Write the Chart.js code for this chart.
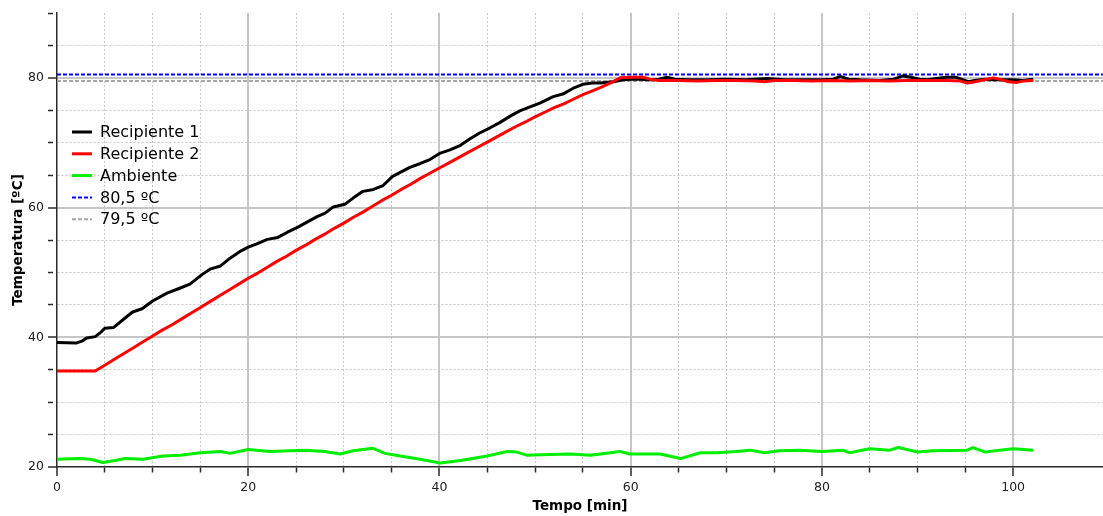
<!DOCTYPE html>
<html lang="pt">
<head>
<meta charset="utf-8">
<title>Temperatura dos recipientes</title>
<script src="https://cdn.jsdelivr.net/npm/chart.js@4/dist/chart.umd.min.js"></script>
<style>
  html, body { margin: 0; padding: 0; background: #ffffff; }
  #grafico { display: block; }
</style>
</head>
<body>
<canvas id="grafico" width="1103" height="516"></canvas>
<script>
// Recipiente 1: tempo [min] e temperatura [ºC]
const tempoR1 = [0, 2.0, 2.6, 3.1, 4.0, 4.6, 5.0, 5.9, 6.9, 7.9, 8.9, 10.0, 11.5, 12.9, 13.9, 15.2, 16.0, 17.1, 18.1, 19.1,
  20.0, 20.9, 22.0, 23.1, 24.1, 25.1, 26.2, 27.2, 28.0, 28.9, 30.1, 31.0, 32.0, 33.1, 34.1, 35.1, 36.0, 36.9, 38.0, 39.0,
  40.1, 41.1, 42.2, 43.2, 44.2, 45.3, 46.3, 47.4, 48.4, 49.4, 50.5, 51.9, 52.9, 54.0, 55.0, 56.0, 56.8, 58.2, 59.2, 60.0,
  61.0, 62.0, 63.0, 63.8, 64.6, 66.0, 68.0, 70.0, 72.0, 74.3, 76.0, 78.0, 80.0, 81.2, 81.9, 82.8, 84.0, 86.0, 87.5, 88.5,
  89.3, 90.2, 91.0, 92.0, 93.0, 94.0, 94.8, 95.3, 96.0, 97.0, 98.0, 99.0, 100.0, 101.0, 102.1];
const recipiente1 = [39.2, 39.1, 39.4, 39.9, 40.1, 40.8, 41.4, 41.5, 42.7, 43.9, 44.4, 45.6, 46.8, 47.6, 48.2, 49.7, 50.5, 51.0, 52.2, 53.2,
  53.9, 54.4, 55.1, 55.4, 56.2, 56.9, 57.8, 58.6, 59.1, 60.1, 60.5, 61.5, 62.5, 62.8, 63.4, 64.8, 65.5, 66.2, 66.8, 67.4,
  68.4, 68.9, 69.6, 70.6, 71.5, 72.3, 73.1, 74.1, 74.9, 75.5, 76.1, 77.1, 77.5, 78.4, 79.0, 79.2, 79.2, 79.4, 79.7, 79.8,
  79.8, 79.7, 79.8, 80.1, 79.8, 79.7, 79.7, 79.8, 79.7, 79.9, 79.7, 79.7, 79.7, 79.8, 80.2, 79.8, 79.7, 79.6, 79.8, 80.3,
  80.1, 79.8, 79.7, 79.9, 80.1, 80.1, 79.7, 79.4, 79.6, 79.8, 79.7, 79.7, 79.7, 79.6, 79.8];

// Recipiente 2
const tempoR2 = [0, 2.0, 4.0, 5, 6, 7, 8, 9, 10, 11, 12, 13, 14, 15, 16, 17, 18, 19, 20, 21, 22, 23, 24, 25, 26, 27, 28, 29,
  30, 31, 32, 33, 34, 35, 36, 37, 38, 39, 40, 41, 42, 43, 44, 45, 46, 47, 48, 49, 50, 51, 52, 53, 54, 55, 56, 57, 58, 58.9,
  60.0, 61.3, 62.0, 63.0, 65.0, 67.0, 69.0, 71.0, 73.0, 74.0, 75.0, 77.0, 79.0, 81.0, 83.0, 85.0, 87.0, 89.0, 91.0, 93.0,
  94.5, 95.2, 96.0, 97.0, 97.9, 98.6, 99.5, 100.4, 101.0, 102.1];
const recipiente2 = [34.8, 34.8, 34.8, 35.7, 36.6, 37.5, 38.4, 39.3, 40.2, 41.1, 41.9, 42.8, 43.7, 44.6, 45.5, 46.4, 47.3, 48.2, 49.1, 49.9, 50.8, 51.7, 52.5, 53.4, 54.2, 55.1, 55.9, 56.8,
  57.6, 58.5, 59.3, 60.2, 61.1, 61.9, 62.8, 63.6, 64.5, 65.3, 66.1, 66.9, 67.7, 68.5, 69.3, 70.1, 70.9, 71.7, 72.5, 73.2, 74.0, 74.7, 75.4, 76.0, 76.7, 77.4, 78.0, 78.6, 79.3, 80.0,
  80.1, 80.1, 79.8, 79.6, 79.6, 79.5, 79.6, 79.6, 79.5, 79.4, 79.6, 79.6, 79.5, 79.6, 79.5, 79.6, 79.5, 79.6, 79.6, 79.6,
  79.5, 79.2, 79.4, 79.7, 80.0, 79.8, 79.4, 79.3, 79.5, 79.6];

// Ambiente
const tempoAmb = [0, 2.4, 3.5, 4.8, 6.1, 7.1, 9.0, 11.1, 12.9, 15.0, 17.1, 18.1, 20.0, 22.3, 24.4, 26.0, 28.0, 29.6, 31.0, 33.0,
  34.3, 35.9, 38.0, 40.1, 42.2, 45.0, 47.1, 48.1, 49.2, 50.5, 53.7, 55.8, 58.9, 59.9, 63.1, 65.2, 67.3, 69.0, 71.0, 72.5,
  74.0, 75.5, 77.7, 80.0, 82.2, 82.9, 85.0, 87.1, 88.0, 90.0, 91.6, 95.2, 95.8, 97.1, 98.6, 100.0, 102.1];
const ambiente = [21.2, 21.3, 21.2, 20.7, 21.0, 21.3, 21.2, 21.7, 21.8, 22.2, 22.4, 22.1, 22.7, 22.4, 22.5, 22.6, 22.4, 22.0, 22.5, 22.9,
  22.1, 21.7, 21.2, 20.6, 21.0, 21.7, 22.4, 22.3, 21.8, 21.9, 22.0, 21.8, 22.4, 22.0, 22.0, 21.3, 22.2, 22.2, 22.4, 22.6,
  22.2, 22.5, 22.6, 22.4, 22.6, 22.2, 22.8, 22.6, 23.0, 22.3, 22.5, 22.6, 23.0, 22.3, 22.6, 22.8, 22.6];

// Linhas de referência [ºC]
const limiteSuperior = 80.5;
const limiteInferior = 79.5;

// Eixos
const tempoMin = 0, tempoMax = 109.4;
const tempMin = 20, tempMax = 90;
const rotulosTempo = [0, 20, 40, 60, 80, 100];
const rotulosTemp = [20, 40, 60, 80];

const pares = (xs, ys) => xs.map((x, i) => ({ x: x, y: ys[i] }));
const horizontal = (v) => [{ x: tempoMin, y: v }, { x: tempoMax, y: v }];

const FONTE = '"DejaVu Sans", Verdana, sans-serif';
const COR_GRADE = '#c6c6c6';
const COR_EIXO = '#2a2a2a';

function gradeEixo(ctx, rotulos, inicio, fim) {
  const v = ctx.tick ? ctx.tick.value : null;
  if (v === null || v === inicio || v === fim) return 'rgba(0,0,0,0)';
  return COR_GRADE;
}
const ehPrincipal = (ctx, rotulos) => ctx.tick && rotulos.includes(ctx.tick.value);

// Legenda desenhada sobre a área do gráfico
const legendaInterna = {
  id: 'legendaInterna',
  afterDatasetsDraw(chart) {
    const ctx = chart.ctx;
    const x0 = 72, x1 = 92, xTexto = 100, y0 = 132, passo = 21.8;
    ctx.save();
    ctx.font = '16px ' + FONTE;
    ctx.textBaseline = 'middle';
    ctx.textAlign = 'left';
    chart.data.datasets.forEach((ds, i) => {
      const y = y0 + i * passo;
      ctx.beginPath();
      ctx.setLineDash(ds.borderDash || []);
      ctx.strokeStyle = ds.borderColor;
      ctx.lineWidth = ds.borderDash ? 2 : 3;
      ctx.moveTo(x0, y);
      ctx.lineTo(x1, y);
      ctx.stroke();
      ctx.setLineDash([]);
      ctx.fillStyle = '#000';
      ctx.fillText(ds.label, xTexto, y + 1);
    });
    ctx.restore();
  }
};

new Chart(document.getElementById('grafico'), {
  type: 'line',
  data: {
    datasets: [
      { label: 'Recipiente 1', data: pares(tempoR1, recipiente1), borderColor: '#000000', borderWidth: 3, order: 2 },
      { label: 'Recipiente 2', data: pares(tempoR2, recipiente2), borderColor: '#ff0000', borderWidth: 3, order: 1 },
      { label: 'Ambiente', data: pares(tempoAmb, ambiente), borderColor: '#00ee00', borderWidth: 3, order: 3 },
      { label: '80,5 ºC', data: horizontal(limiteSuperior), borderColor: '#0000ff', borderWidth: 2, borderDash: [4, 2], order: 4 },
      { label: '79,5 ºC', data: horizontal(limiteInferior), borderColor: '#a6a6a6', borderWidth: 2, borderDash: [4, 2], order: 5 }
    ]
  },
  options: {
    responsive: false,
    animation: false,
    devicePixelRatio: 1,
    layout: { padding: { top: 13, right: 0, bottom: 0, left: 0 } },
    elements: {
      point: { radius: 0, hoverRadius: 0 },
      line: { tension: 0, fill: false, borderCapStyle: 'butt', borderJoinStyle: 'round' }
    },
    plugins: { legend: { display: false }, tooltip: { enabled: false } },
    scales: {
      x: {
        type: 'linear',
        min: tempoMin,
        max: tempoMax,
        afterBuildTicks: (s) => { s.ticks = s.ticks.filter(t => Math.abs(t.value % 5) < 1e-9); },
        afterFit: (s) => { s.height = 49; },
        ticks: {
          stepSize: 5,
          autoSkip: false,
          maxRotation: 0,
          padding: 4,
          color: '#222',
          font: { family: FONTE, size: 12.5 },
          callback: (v) => rotulosTempo.includes(v) ? String(v) : ''
        },
        grid: {
          color: (c) => gradeEixo(c, rotulosTempo, tempoMin, null),
          lineWidth: (c) => ehPrincipal(c, rotulosTempo) ? 2 : 1,
          tickLength: 9,
          tickWidth: 1.5,
          tickColor: COR_EIXO,
          tickBorderDash: (c) => ehPrincipal(c, rotulosTempo) ? [] : [5, 40]
        },
        border: {
          display: true,
          color: COR_EIXO,
          width: 1.5,
          dash: (c) => ehPrincipal(c, rotulosTempo) ? [] : [2, 2]
        },
        title: {
          display: true,
          text: 'Tempo [min]',
          color: '#000',
          font: { family: FONTE, size: 13.5, weight: 'bold' },
          padding: { top: 0, bottom: 1 }
        }
      },
      y: {
        type: 'linear',
        min: tempMin,
        max: tempMax,
        afterFit: (s) => { s.width = 57; },
        ticks: {
          stepSize: 5,
          autoSkip: false,
          padding: 4,
          color: '#222',
          font: { family: FONTE, size: 12.5 },
          callback: (v) => rotulosTemp.includes(v) ? String(v) : ''
        },
        grid: {
          color: (c) => gradeEixo(c, rotulosTemp, tempMin, tempMax),
          lineWidth: (c) => ehPrincipal(c, rotulosTemp) ? 2 : 1,
          tickLength: 9,
          tickWidth: 1.5,
          tickColor: COR_EIXO,
          tickBorderDash: (c) => ehPrincipal(c, rotulosTemp) ? [] : [5, 40]
        },
        border: {
          display: true,
          color: COR_EIXO,
          width: 1.5,
          dash: (c) => ehPrincipal(c, rotulosTemp) ? [] : [2, 2]
        },
        title: {
          display: true,
          text: 'Temperatura [ºC]',
          color: '#000',
          font: { family: FONTE, size: 13.5, weight: 'bold' },
          padding: { top: 10, bottom: 0 }
        }
      }
    }
  },
  plugins: [legendaInterna]
});
</script>
</body>
</html>
